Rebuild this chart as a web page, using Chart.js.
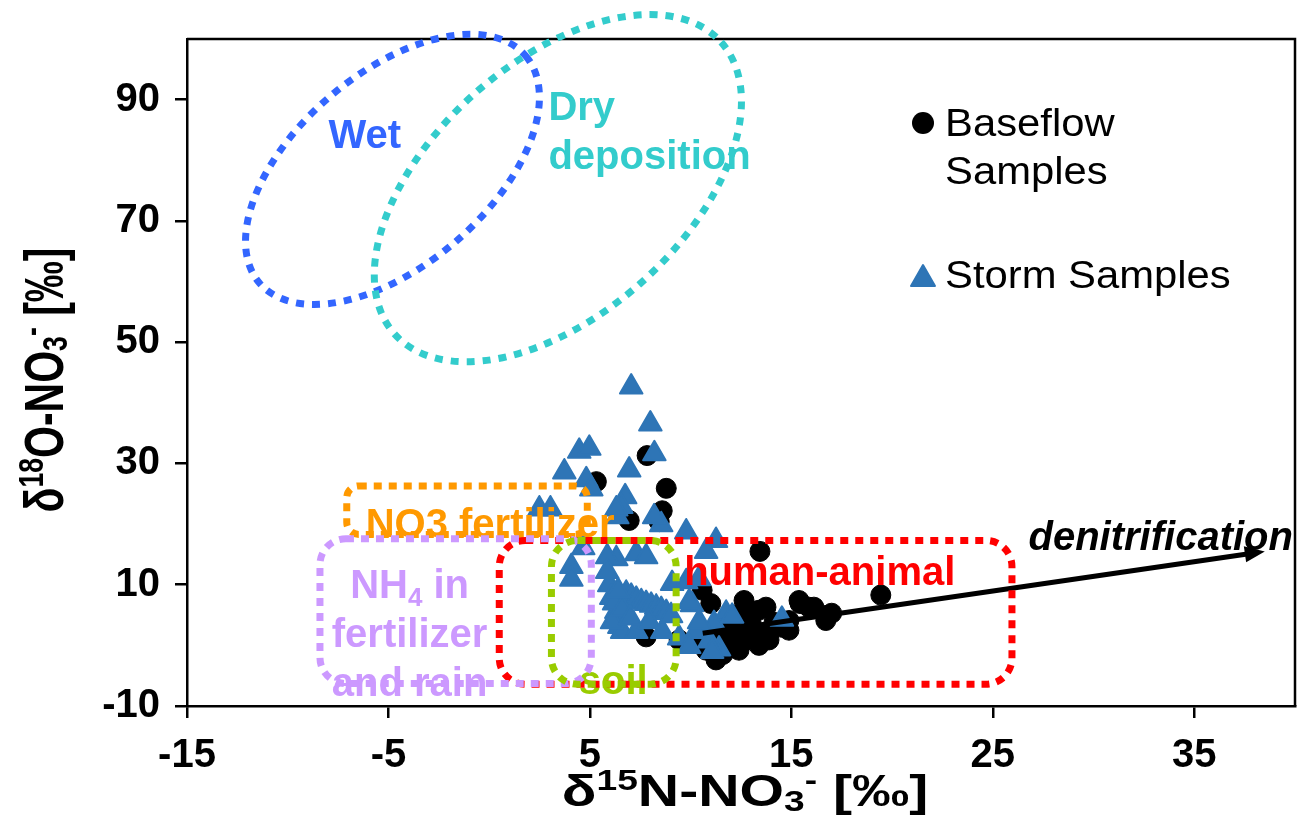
<!DOCTYPE html>
<html>
<head>
<meta charset="utf-8">
<script src="https://cdn.jsdelivr.net/npm/chart.js@4.4.1/dist/chart.umd.min.js"></script>
<style>
  html, body { margin: 0; padding: 0; background: #ffffff; }
  canvas { display: block; }
</style>
</head>
<body>
<canvas id="chart" width="1314" height="819"></canvas>
<script>
// Axis tick values
const xTicks = [-15, -5, 5, 15, 25, 35];
const yTicks = [-10, 10, 30, 50, 70, 90];

// Baseflow samples: d15N-NO3 and d18O-NO3 (per mil)
const baseflowN = [5.32, 7.84, 8.79, 8.59, 8.44, 6.95, 13.44, 19.44, 15.43, 16.12, 16.81, 12.65, 13.39,
  14.14, 13.89, 13.39, 12.4, 11.26, 10.77, 10.42, 9.43, 7.79, 12.2, 13.15, 14.88, 10.57, 12.55, 12.9,
  13.74, 15.38, 15.87, 17.0, 16.71, 11.41, 11.9, 14.88, 11.0, 12.0, 13.0, 12.3, 11.6, 13.6, 14.5];
const baseflowO = [27.0, 31.3, 25.9, 22.2, 20.4, 20.6, 15.5, 8.3, 6.9, 6.3, 5.0, 7.4, 5.8,
  3.8, 0.9, 0.0, -0.8, -2.4, -0.8, 0.9, 0.9, 1.4, 5.0, 2.5, 4.1, 9.1, 0.4, 5.8,
  6.3, 7.4, 6.3, 5.3, 4.1, 2.5, 0.9, 2.5, 6.9, 3.5, 3.8, 1.8, -1.5, 1.6, 3.0];

// Storm samples: d15N-NO3 and d18O-NO3 (per mil)
const stormN = [7.05, 8.0, 8.2, 4.47, 4.97, 3.73, 4.82, 5.07, 6.95, 6.75, 6.56, 6.36, 2.49, 3.04,
  8.54, 9.78, 11.26, 10.77, 4.08, 4.08, 4.67, 6.31, 7.3, 7.79, 5.96, 6.06, 6.31, 6.46, 6.6, 7.3,
  8.59, 6.8, 7.05, 7.3, 7.55, 7.79, 8.04, 8.29, 8.54, 8.79, 9.03, 9.08, 9.78, 10.07, 10.42, 9.93,
  10.27, 9.43, 11.16, 11.76, 11.41, 10.92, 14.53, 12.06, 11.07, 6.31, 8.19, 5.86, 5.86, 6.1, 7.94,
  10.42, 9.93, 6.2, 6.6, 7.0, 6.4];
const stormO = [42.6, 36.5, 31.6, 32.0, 32.5, 28.6, 27.3, 25.8, 28.9, 24.5, 22.9, 21.2, 22.5, 22.5,
  19.9, 18.7, 17.3, 15.5, 13.0, 10.9, 16.1, 14.3, 15.1, 14.6, 10.0, 7.9, 5.6, 3.1, 2.3, 2.3,
  2.3, 8.6, 8.1, 7.6, 7.2, 6.9, 6.6, 6.3, 5.9, 5.4, 4.9, 10.2, 10.5, 6.7, 11.0, 7.2,
  2.3, 1.2, 3.6, 5.3, -0.6, 0.7, 4.3, 4.8, -1.0, 22.5, 21.2, 14.6, 12.2, 3.9, 3.9,
  3.9, -0.2, 7.0, 6.0, 4.5, 9.0];

// Denitrification trend arrow (start, end) in data units
const denitN = [10.6, 38.5];
const denitO = [2.0, 15.5];

const FONT = "'Liberation Sans', Arial, Helvetica, sans-serif";
Chart.defaults.font.family = FONT;

// Source regions drawn as dotted rounded boxes (data units)
const sourceBoxes = [
  { xMin: -7.07, xMax: 4.87, yMin: 18.3, yMax: 26.3, r: 12, color: '#FF9900' },
  { xMin: 0.5, xMax: 25.95, yMin: -6.4, yMax: 17.3, r: 26, color: '#FF0000' },
  { xMin: -8.4, xMax: 5.07, yMin: -6.3, yMax: 17.6, r: 26, color: '#CC99FF' },
  { xMin: 3.09, xMax: 9.28, yMin: -6.4, yMax: 17.3, r: 26, color: '#99CC00' }
];

// Atmospheric deposition ellipses: centre in data units, semi-axes in px, tilt in degrees
const sourceEllipses = [
  { x: -4.8, y: 78.5, a: 175, b: 96, tilt: 40.5, color: '#3366FF' },
  { x: 3.41, y: 75.4, a: 219, b: 126, tilt: 41.8, color: '#33CCCC' }
];

// Region labels: anchor in data units, each line is a list of text runs
const sourceLabels = [
  { x: -6.18, y: 84.4, align: 'center', color: '#3366FF', lines: [[{ t: 'Wet' }]] },
  { x: 2.94, y: 89.0, align: 'left', color: '#33CCCC', lines: [[{ t: 'Dry' }], [{ t: 'deposition' }]] },
  { x: -6.13, y: 20.3, align: 'left', color: '#FF9900', lines: [[{ t: 'NO3 fertilizer' }]] },
  { x: -3.95, y: 10.2, align: 'center', color: '#CC99FF',
    lines: [[{ t: 'NH' }, { t: '4', sub: true }, { t: ' in' }], [{ t: 'fertilizer' }], [{ t: 'and rain' }]] },
  { x: 6.16, y: -5.7, align: 'center', color: '#99CC00', lines: [[{ t: 'soil' }]] },
  { x: 9.68, y: 12.4, align: 'left', color: '#FF0000', lines: [[{ t: 'human-animal' }]] },
  { x: 26.77, y: 18.1, align: 'left', color: '#000000', italic: true, lines: [[{ t: 'denitrification' }]] }
];

const xTitle = [{ t: '\u03B4' }, { t: '15', sup: true }, { t: 'N-NO' }, { t: '3', sub: true }, { t: '-', sup: true }, { t: ' [\u2030]' }];
const yTitle = [{ t: '\u03B4' }, { t: '18', sup: true }, { t: 'O-NO' }, { t: '3', sub: true }, { t: '-', sup: true }, { t: ' [\u2030]' }];

function runFont(run, size, italic) {
  const s = (run.sup || run.sub) ? size * 0.65 : size;
  return (italic ? 'italic ' : '') + 'bold ' + s + 'px ' + FONT;
}

function richWidth(ctx, runs, size, italic) {
  let w = 0;
  runs.forEach(r => { ctx.font = runFont(r, size, italic); w += ctx.measureText(r.t).width; });
  return w;
}

// Draw text runs on an alphabetic baseline, with super/subscripts
function drawRich(ctx, runs, x, y, size, align, italic, subDrop) {
  const w = richWidth(ctx, runs, size, italic);
  const drop = subDrop === undefined ? 0.2 : subDrop;
  let cx = align === 'center' ? x - w / 2 : x;
  ctx.textAlign = 'left';
  ctx.textBaseline = 'alphabetic';
  runs.forEach(r => {
    ctx.font = runFont(r, size, italic);
    const dy = r.sup ? -size * 0.36 : (r.sub ? size * drop : 0);
    ctx.fillText(r.t, cx, y + dy);
    cx += ctx.measureText(r.t).width;
  });
}

function roundRectPath(ctx, x0, y0, x1, y1, r) {
  ctx.beginPath();
  ctx.moveTo(x0 + r, y0);
  ctx.lineTo(x1 - r, y0);
  ctx.arcTo(x1, y0, x1, y0 + r, r);
  ctx.lineTo(x1, y1 - r);
  ctx.arcTo(x1, y1, x1 - r, y1, r);
  ctx.lineTo(x0 + r, y1);
  ctx.arcTo(x0, y1, x0, y1 - r, r);
  ctx.lineTo(x0, y0 + r);
  ctx.arcTo(x0, y0, x0 + r, y0, r);
  ctx.closePath();
}

const decor = {
  id: 'decor',
  beforeDatasetsDraw(chart) {
    chart.ctx.save();
    chart.ctx.lineJoin = 'round';
  },
  afterDatasetsDraw(chart) {
    const ctx = chart.ctx;
    ctx.restore();
    const xs = chart.scales.x, ys = chart.scales.y, area = chart.chartArea;

    // top and right frame lines
    ctx.save();
    ctx.strokeStyle = '#000';
    ctx.lineWidth = 2.5;
    ctx.beginPath();
    ctx.moveTo(area.left, area.top);
    ctx.lineTo(area.right, area.top);
    ctx.lineTo(area.right, area.bottom);
    ctx.stroke();
    ctx.restore();

    // denitrification arrow
    ctx.save();
    const ax0 = xs.getPixelForValue(denitN[0]), ay0 = ys.getPixelForValue(denitO[0]);
    const ax1 = xs.getPixelForValue(denitN[1]), ay1 = ys.getPixelForValue(denitO[1]);
    const ang = Math.atan2(ay1 - ay0, ax1 - ax0);
    const headL = 20, headW = 8;
    ctx.strokeStyle = '#000';
    ctx.fillStyle = '#000';
    ctx.lineWidth = 5;
    ctx.beginPath();
    ctx.moveTo(ax0, ay0);
    ctx.lineTo(ax1 - Math.cos(ang) * headL * 0.8, ay1 - Math.sin(ang) * headL * 0.8);
    ctx.stroke();
    ctx.beginPath();
    ctx.moveTo(ax1, ay1);
    ctx.lineTo(ax1 - Math.cos(ang) * headL - Math.sin(ang) * headW, ay1 - Math.sin(ang) * headL + Math.cos(ang) * headW);
    ctx.lineTo(ax1 - Math.cos(ang) * headL + Math.sin(ang) * headW, ay1 - Math.sin(ang) * headL - Math.cos(ang) * headW);
    ctx.closePath();
    ctx.fill();
    ctx.restore();

    // region labels
    const LS = 40, gap = 49;
    sourceLabels.forEach(lb => {
      ctx.save();
      ctx.fillStyle = lb.color;
      const px = xs.getPixelForValue(lb.x), py = ys.getPixelForValue(lb.y);
      lb.lines.forEach((runs, i) => {
        drawRich(ctx, runs, px, py + i * gap + LS * 0.36, LS, lb.align, lb.italic);
      });
      ctx.restore();
    });

    // dotted source boxes
    sourceBoxes.forEach(b => {
      ctx.save();
      ctx.strokeStyle = b.color;
      ctx.lineWidth = 7;
      ctx.lineCap = 'butt';
      ctx.setLineDash([8, 7]);
      roundRectPath(ctx, xs.getPixelForValue(b.xMin), ys.getPixelForValue(b.yMax),
        xs.getPixelForValue(b.xMax), ys.getPixelForValue(b.yMin), b.r);
      ctx.stroke();
      ctx.restore();
    });

    // dotted deposition ellipses
    sourceEllipses.forEach(e => {
      ctx.save();
      ctx.strokeStyle = e.color;
      ctx.lineWidth = 7;
      ctx.lineCap = 'butt';
      ctx.setLineDash([8, 8]);
      ctx.beginPath();
      ctx.ellipse(xs.getPixelForValue(e.x), ys.getPixelForValue(e.y), e.a, e.b, -e.tilt * Math.PI / 180, 0, Math.PI * 2);
      ctx.stroke();
      ctx.restore();
    });

    // legend
    ctx.save();
    const lx = area.left + 736;
    ctx.fillStyle = '#000';
    ctx.beginPath();
    ctx.arc(lx, area.top + 84, 11, 0, Math.PI * 2);
    ctx.fill();
    ctx.fillStyle = '#2E75B6';
    ctx.strokeStyle = '#2E75B6';
    ctx.lineWidth = 2;
    ctx.lineJoin = 'round';
    ctx.beginPath();
    ctx.moveTo(lx, area.top + 226);
    ctx.lineTo(lx + 12, area.top + 247);
    ctx.lineTo(lx - 12, area.top + 247);
    ctx.closePath();
    ctx.fill();
    ctx.stroke();
    ctx.fillStyle = '#000';
    ctx.font = '38px ' + FONT;
    ctx.textAlign = 'left';
    ctx.textBaseline = 'alphabetic';
    const legendText = (txt, x, y) => {
      ctx.save();
      ctx.translate(x, y);
      ctx.scale(1.1, 1);
      ctx.fillText(txt, 0, 0);
      ctx.restore();
    };
    legendText('Baseflow', lx + 22, area.top + 97);
    legendText('Samples', lx + 22, area.top + 145);
    legendText('Storm Samples', lx + 22, area.top + 249);
    ctx.restore();

    // axis titles (set in a wide bold face)
    ctx.save();
    ctx.fillStyle = '#000';
    ctx.translate((area.left + area.right) / 2 + 4, 806);
    ctx.scale(1.3, 1);
    drawRich(ctx, xTitle, 0, 0, 44, 'center', false, 0.12);
    ctx.restore();

    ctx.save();
    ctx.fillStyle = '#000';
    ctx.translate(63, 380);
    ctx.rotate(-Math.PI / 2);
    ctx.scale(1, 1.35);
    drawRich(ctx, yTitle, 0, 0, 41, 'center', false, 0.08);
    ctx.restore();
  }
};

const toPoints = (xs, ys) => xs.map((v, i) => ({ x: v, y: ys[i] }));

const axisCommon = {
  type: 'linear',
  grid: { drawOnChartArea: false, drawTicks: true, tickLength: 12, color: '#000', lineWidth: 2.5 },
  border: { display: true, color: '#000', width: 2.5 },
};

new Chart(document.getElementById('chart'), {
  type: 'scatter',
  data: {
    datasets: [
      {
        label: 'Storm Samples',
        data: toPoints(stormN, stormO),
        order: 1,
        pointStyle: 'triangle',
        pointRadius: 13,
        backgroundColor: '#2E75B6',
        borderColor: '#2E75B6',
        borderWidth: 2
      },
      {
        label: 'Baseflow Samples',
        data: toPoints(baseflowN, baseflowO),
        order: 2,
        pointStyle: 'circle',
        pointRadius: 10,
        backgroundColor: '#000000',
        borderColor: '#000000',
        borderWidth: 1
      }
    ]
  },
  options: {
    responsive: false,
    animation: false,
    events: [],
    layout: { padding: { top: 37, right: 19, left: 0, bottom: 0 } },
    plugins: { legend: { display: false }, tooltip: { enabled: false } },
    scales: {
      x: Object.assign({}, axisCommon, {
        min: -15, max: 40,
        afterFit(s) { s.height = 113; },
        afterBuildTicks(s) { s.ticks = xTicks.map(v => ({ value: v })); },
        ticks: { font: { size: 40, weight: 'bold' }, color: '#000', padding: 14, maxRotation: 0, autoSkip: false }
      }),
      y: Object.assign({}, axisCommon, {
        min: -10, max: 100,
        afterFit(s) { s.width = 187; },
        afterBuildTicks(s) { s.ticks = yTicks.map(v => ({ value: v })); },
        ticks: { font: { size: 40, weight: 'bold' }, color: '#000', padding: 15, autoSkip: false }
      })
    }
  },
  plugins: [decor]
});
</script>
</body>
</html>
